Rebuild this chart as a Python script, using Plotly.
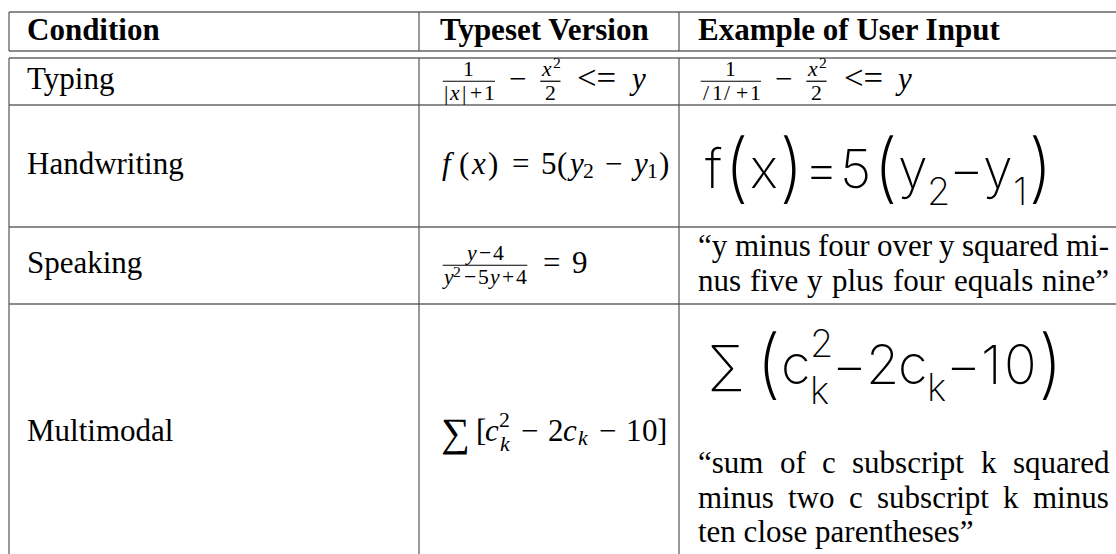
import plotly.graph_objects as go

# ===================== table content (data) =====================
column_headers = ["Condition", "Typeset Version", "Example of User Input"]
conditions = ["Typing", "Handwriting", "Speaking", "Multimodal"]


def RM(s): return ("rm", s)
def IT(s): return ("it", s)
def BIN(s): return ("bin", s)
def REL(s): return ("rel", s)
def OP(s): return ("op", s)
def SUP(*t): return ("sup", list(t))
def SUB(*t): return ("sub", list(t))
def SUPSUB(a, b): return ("supsub", a, b)
def FRAC(n, d): return ("frac", n, d)


typing_typeset = [FRAC([RM("1")], [RM("|"), IT("x"), RM("|"), BIN("+"), RM("1")]),
                  BIN("−"), FRAC([IT("x"), SUP(RM("2"))], [RM("2")]), REL("<="), IT("y")]
typing_input = [FRAC([RM("1")], [RM("/1/"), BIN("+"), RM("1")]),
                BIN("−"), FRAC([IT("x"), SUP(RM("2"))], [RM("2")]), REL("<="), IT("y")]
handwriting_typeset = [IT("f"), RM("("), IT("x"), RM(")"), REL("="), RM("5("), IT("y"), SUB(RM("2")),
                       BIN("−"), IT("y"), SUB(RM("1")), RM(")")]
handwriting_input = [IT("f"), RM("("), IT("x"), RM(")"), REL("="), RM("5("), IT("y"), SUB(RM("2")),
                     BIN("−"), IT("y"), SUB(RM("1")), RM(")")]
speaking_typeset = [FRAC([IT("y"), BIN("−"), RM("4")],
                         [IT("y"), SUP(RM("2")), BIN("−"), RM("5"), IT("y"), BIN("+"), RM("4")]),
                    REL("="), RM("9")]
speaking_input = ["“y minus four over y squared mi-", "nus five y plus four equals nine”"]
multimodal_typeset = [OP("∑"), RM("["), IT("c"), SUPSUB([RM("2")], [IT("k")]), BIN("−"), RM("2"),
                      IT("c"), SUB(IT("k")), BIN("−"), RM("10"), RM("]")]
multimodal_input_drawn = [OP("∑"), RM("("), IT("c"), SUPSUB([RM("2")], [IT("k")]), BIN("−"), RM("2"),
                          IT("c"), SUB(IT("k")), BIN("−"), RM("10"), RM(")")]
multimodal_input_spoken = ["“sum of c subscript k squared", "minus two c subscript k minus",
                           "ten close parentheses”"]

typeset_versions = [typing_typeset, handwriting_typeset, speaking_typeset, multimodal_typeset]

# ===================== geometry & style =====================
W, H = 1116, 554
COL_X = [9, 419, 679, 1140]
TEXT_X = [26, 439, 697]
TEXT_RIGHT = 1108
Y_TOP, Y_HEAD_A, Y_HEAD_B = 12, 51, 58
ROW_EDGES = [58, 105, 227, 304, 562]
HEAD_BASE = 39.5
FS = 31
SERIF = "Liberation Serif, Times New Roman, serif"
HAND = "Inter, Roboto, Lato, sans-serif"
SERIF_AD = (0.891, 0.216)
HAND_AD = (0.97, 0.24)

# advance widths (em) – Computer Modern like for typeset math
CM_W = {"0": .5, "1": .5, "2": .5, "3": .5, "4": .5, "5": .5, "6": .5, "7": .5, "8": .5, "9": .5,
        "+": .778, "−": .778, "=": .778, "<": .778, "(": .389, ")": .389, "[": .278, "]": .278,
        "|": .278, "/": .5, "x": .572, "y": .49, "f": .6, "c": .433, "k": .521, "∑": 1.056}
# advance widths (em) for the handwritten strokes
HAND_W = {"f": .38, "(": .35, "x": .53, ")": .35, "=": .62, "5": .62, "y": .53, "2": .6, "−": .62,
          "1": .42, "∑": .7, "c": .53, "k": .52, "0": .64}
HAND_SCALE = {"(": 1.4, ")": 1.4}
# Times / Liberation Serif widths (em) for prose
TIMES_W = {"a": .444, "b": .5, "c": .444, "d": .5, "e": .444, "f": .333, "g": .5, "h": .5, "i": .278,
           "j": .278, "k": .5, "l": .278, "m": .778, "n": .5, "o": .5, "p": .5, "q": .5, "r": .333,
           "s": .389, "t": .278, "u": .5, "v": .5, "w": .722, "x": .5, "y": .5, "z": .444,
           "“": .444, "”": .444, "-": .333, " ": .25}
ESC = {"<": "&lt;", ">": "&gt;", "&": "&amp;"}

fig = go.Figure()


def esc(s):
    return "".join(ESC.get(c, c) for c in s)


def add_text(text, x, base, size, family, xanchor="left", weight=None, color="black", ad=SERIF_AD):
    yc = base - (ad[0] - ad[1]) / 2 * size
    font = dict(family=family, size=size, color=color)
    if weight is not None:
        font["weight"] = weight
    fig.add_annotation(x=x, y=yc, xref="x", yref="y", text=text, showarrow=False,
                       xanchor=xanchor, yanchor="middle", font=font, borderpad=0)


def lay(tokens, size, level, wt, sp=True, sup_dy=0.36, sub_dy=0.15, ss_sup=0.42, ss_sub=0.36,
        cscale=None, cdy=0.0):
    cscale = cscale or {}
    glyphs, bars = [], []
    x = 0.0
    small = size * (0.7 if level == 0 else 0.72)

    def put(sub, dx, dy):
        g, b, w = sub
        for q in g:
            glyphs.append([q[0], q[1] + dx, q[2] + dy, q[3], q[4], q[5], q[6]])
        for r in b:
            bars.append([r[0] + dx, r[1] + dx, r[2] + dy, r[3]])
        return w

    def sublay(t):
        return lay(t, small, level + 1, wt, sp, sup_dy, sub_dy, ss_sup, ss_sub, cscale, cdy)

    for tok in tokens:
        kind = tok[0]
        if kind in ("rm", "it", "bin", "rel", "op"):
            pad = ({"bin": 0.222, "rel": 0.278}.get(kind, 0.0) * size) if (sp and level == 0) else 0.0
            x += pad
            if kind == "rel" and len(tok[1]) > 1:
                w = sum(wt.get(c, 0.5) for c in tok[1]) * size
                glyphs.append([tok[1], x, 0.0, size * 1.12, False, w, False])
                x += w
            else:
                for ch in tok[1]:
                    sc = cscale.get(ch, 1.0)
                    w = wt.get(ch, 0.5) * size * sc
                    dy = cdy * size if sc != 1.0 else 0.0
                    glyphs.append([ch, x, dy, size * sc, kind == "it", w, kind == "op"])
                    x += w
            x += pad + (0.167 * size if kind == "op" else 0.0)
        elif kind == "sup":
            x += put(sublay(tok[1]), x, -sup_dy * size)
        elif kind == "sub":
            x += put(sublay(tok[1]), x, sub_dy * size)
        elif kind == "supsub":
            w1 = put(sublay(tok[1]), x, -ss_sup * size)
            w2 = put(sublay(tok[2]), x, ss_sub * size)
            x += max(w1, w2)
        elif kind == "frac":
            num, den = sublay(tok[1]), sublay(tok[2])
            gap = 0.12 * size
            wb = max(num[2], den[2])
            x += gap
            put(num, x + (wb - num[2]) / 2, -0.42 * size)
            put(den, x + (wb - den[2]) / 2, 0.36 * size)
            bars.append([x, x + wb, -0.25 * size, 0.04 * size])
            x += wb + gap
    return glyphs, bars, x


def draw_math(tokens, x0, base, size, wt=CM_W, family=SERIF, italic=True, weight=None,
              op_scale=1.3, op_dy=0.17, ad=SERIF_AD, color="black", **kw):
    g, b, w = lay(tokens, size, 0, wt, **kw)
    for ch, gx, gy, fs, it, gw, isop in g:
        t = esc(ch)
        if it and italic:
            t = "<i>" + t + "</i>"
        dy = 0.0
        if isop:
            fs = fs * op_scale
            dy = op_dy * size
        add_text(t, x0 + gx + gw / 2, base + gy + dy, fs, family, "center", weight, color, ad)
    for bx0, bx1, by, th in b:
        fig.add_shape(type="line", xref="x", yref="y", x0=x0 + bx0, x1=x0 + bx1,
                      y0=base + by, y1=base + by, line=dict(color=color, width=th))
    return w


def text_w(s, size):
    return sum(TIMES_W.get(c, 0.5) for c in s) * size


def justified(line, x0, x1, base, size):
    words = line.split(" ")
    widths = [text_w(wd, size) for wd in words]
    gap = (x1 - x0 - sum(widths)) / max(len(words) - 1, 1)
    x = x0
    for wd, ww in zip(words, widths):
        add_text(wd, x, base, size, SERIF)
        x += ww + gap


# ===================== table rules =====================
HCOL = "#1a1a1a"
VCOL = "#555555"
for y in [Y_TOP, Y_HEAD_A, Y_HEAD_B] + ROW_EDGES[1:-1]:
    fig.add_shape(type="line", xref="x", yref="y", x0=COL_X[0], x1=COL_X[-1], y0=y, y1=y,
                  line=dict(color=HCOL, width=1.2))
for cx in COL_X[:-1]:
    fig.add_shape(type="line", xref="x", yref="y", x0=cx, x1=cx, y0=Y_TOP, y1=Y_HEAD_A,
                  line=dict(color=VCOL, width=1.2))
    fig.add_shape(type="line", xref="x", yref="y", x0=cx, x1=cx, y0=Y_HEAD_B, y1=ROW_EDGES[-1],
                  line=dict(color=VCOL, width=1.2))

# ===================== header =====================
for tx, label in zip(TEXT_X, column_headers):
    add_text("<b>" + label + "</b>", tx, HEAD_BASE, FS, SERIF)

# ===================== rows =====================
row_base = [(ROW_EDGES[i] + ROW_EDGES[i + 1]) / 2 + 7.5 for i in range(len(conditions))]
for i, cond in enumerate(conditions):
    add_text(cond, TEXT_X[0], row_base[i], FS, SERIF)
    draw_math(typeset_versions[i], TEXT_X[1], row_base[i], FS)

# Typing: typed input rendered as math
draw_math(typing_input, TEXT_X[2], row_base[0], FS)

# Handwriting: handwritten strokes
hand_kw = dict(wt=HAND_W, family=HAND, italic=False, weight=200, op_scale=1.0, op_dy=0.0,
               ad=HAND_AD, color="#000000", sp=False, sup_dy=0.45, sub_dy=0.32,
               ss_sup=0.5, ss_sub=0.36, cscale=HAND_SCALE, cdy=0.12)
draw_math(handwriting_input, TEXT_X[2] + 6, (ROW_EDGES[1] + ROW_EDGES[2]) / 2 + 22, 54, **hand_kw)

# Speaking: justified two-line quote
sp_mid = row_base[2]
for j, line in enumerate(speaking_input):
    justified(line, TEXT_X[2], TEXT_RIGHT, sp_mid - 17.5 + 35 * j, FS)

# Multimodal: handwriting + spoken quote
draw_math(multimodal_input_drawn, TEXT_X[2] + 11, ROW_EDGES[3] + 80, 54, **hand_kw)
for j, line in enumerate(multimodal_input_spoken):
    b = ROW_EDGES[3] + 169 + 34.5 * j
    if j < len(multimodal_input_spoken) - 1:
        justified(line, TEXT_X[2], TEXT_RIGHT, b, FS)
    else:
        add_text(line, TEXT_X[2], b, FS, SERIF)

fig.update_layout(
    width=W, height=H, margin=dict(l=0, r=0, t=0, b=0, pad=0),
    paper_bgcolor="white", plot_bgcolor="white", showlegend=False,
    xaxis=dict(range=[0, W], visible=False, fixedrange=True),
    yaxis=dict(range=[H, 0], visible=False, fixedrange=True),
)
fig.write_html("out.html", config={"displayModeBar": False},
               post_script="document.body.style.margin='0';document.body.style.padding='0';"
                           "document.body.style.overflow='hidden';")
